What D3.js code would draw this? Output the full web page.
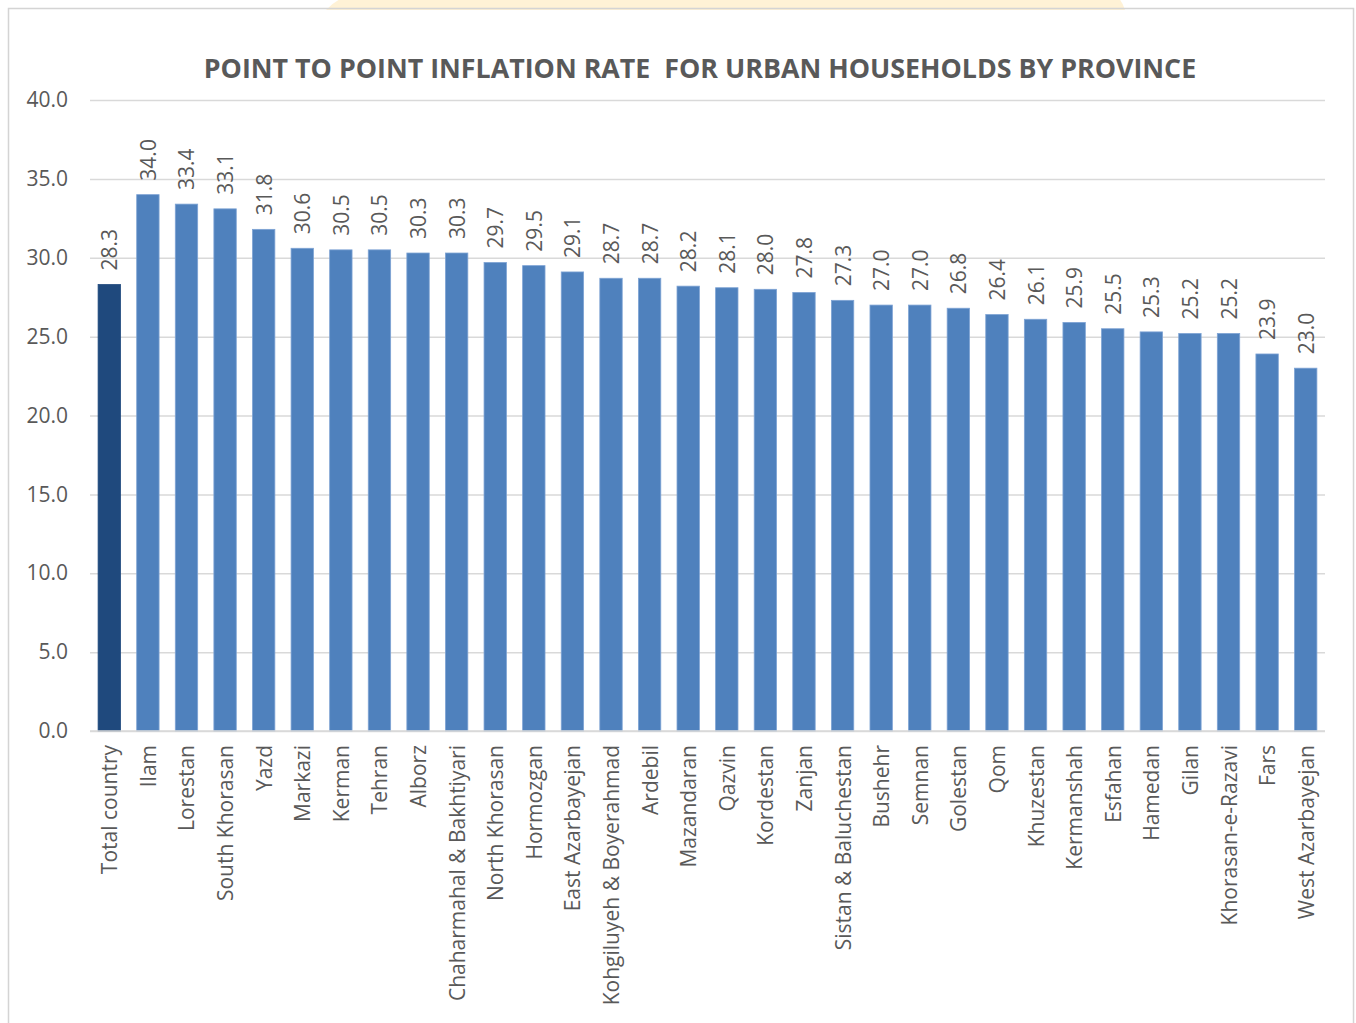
<!DOCTYPE html>
<html>
<head>
<meta charset="utf-8">
<script src="https://cdn.jsdelivr.net/npm/d3@7"></script>
<style>
  html, body { margin: 0; padding: 0; background: #fff; }
  svg { display: block; font-family: "Open Sans", sans-serif; }
</style>
</head>
<body>
<svg id="chart" width="1356" height="1023"></svg>
<script>
const provinces = ["Total country", "Ilam", "Lorestan", "South Khorasan", "Yazd", "Markazi", "Kerman", "Tehran",
  "Alborz", "Chaharmahal & Bakhtiyari", "North Khorasan", "Hormozgan", "East Azarbayejan",
  "Kohgiluyeh & Boyerahmad", "Ardebil", "Mazandaran", "Qazvin", "Kordestan", "Zanjan",
  "Sistan & Baluchestan", "Bushehr", "Semnan", "Golestan", "Qom", "Khuzestan", "Kermanshah",
  "Esfahan", "Hamedan", "Gilan", "Khorasan-e-Razavi", "Fars", "West Azarbayejan"];
const inflation = [28.3, 34.0, 33.4, 33.1, 31.8, 30.6, 30.5, 30.5, 30.3, 30.3, 29.7, 29.5, 29.1, 28.7, 28.7,
  28.2, 28.1, 28.0, 27.8, 27.3, 27.0, 27.0, 26.8, 26.4, 26.1, 25.9, 25.5, 25.3, 25.2, 25.2, 23.9, 23.0];
const yTicks = [0, 5, 10, 15, 20, 25, 30, 35, 40];

const data = provinces.map((p, i) => ({ name: p, value: inflation[i] }));

const svg = d3.select("#chart");
const textColor = "#595959";

// faint yellow shape peeking at top
svg.append("path")
  .attr("d", "M 326 10 Q 335 0 348 -4 L 1116 -4 Q 1122 0 1125 10 Z")
  .attr("fill", "#fff2d6");

// chart frame
svg.append("rect")
  .attr("x", 8.5).attr("y", 8.5)
  .attr("width", 1345).attr("height", 1030)
  .attr("fill", "none")
  .attr("stroke", "#d4d4d4")
  .attr("stroke-width", 1.5);

const x = d3.scaleBand()
  .domain(provinces)
  .range([90, 1325])
  .paddingInner(0.42)
  .paddingOuter(0.21);

const y = d3.scaleLinear()
  .domain([0, 40])
  .range([731, 100]);

// gridlines + y labels
const yAxis = svg.append("g")
  .attr("transform", "translate(90,0)")
  .call(d3.axisLeft(y).tickValues(yTicks).tickSize(-1235).tickPadding(22).tickFormat(d3.format(".1f")));
yAxis.select(".domain").remove();
yAxis.selectAll(".tick line").attr("stroke", "#d9d9d9").attr("stroke-width", 1.5);
yAxis.selectAll(".tick text")
  .attr("fill", textColor)
  .style("font-size", "21px")
  .style("font-family", "Open Sans, sans-serif");

// bars
svg.append("g").selectAll("rect")
  .data(data)
  .enter()
  .append("rect")
  .attr("x", d => x(d.name))
  .attr("y", d => y(d.value))
  .attr("width", x.bandwidth())
  .attr("height", d => y(0) - y(d.value))
  .attr("fill", (d, i) => i === 0 ? "#1f497d" : "#4f81bd")
  .attr("stroke", (d, i) => i === 0 ? "#1f497d" : "#7ea3d4")
  .attr("stroke-width", 0.8);

// baseline
svg.append("line")
  .attr("x1", 90).attr("x2", 1325)
  .attr("y1", y(0)).attr("y2", y(0))
  .attr("stroke", "#d9d9d9")
  .attr("stroke-width", 1.5);

// value labels
svg.append("g").selectAll("text")
  .data(data)
  .enter()
  .append("text")
  .attr("transform", d => `translate(${x(d.name) + x.bandwidth() / 2 + 8},${y(d.value) - 14}) rotate(-90)`)
  .attr("fill", textColor)
  .style("font-size", "21px")
  .text(d => d.value.toFixed(1));

// category labels
svg.append("g").selectAll("text")
  .data(data)
  .enter()
  .append("text")
  .attr("transform", d => `translate(${x(d.name) + x.bandwidth() / 2 + 8},${745}) rotate(-90)`)
  .attr("text-anchor", "end")
  .attr("fill", textColor)
  .style("font-size", "21px")
  .text(d => d.name);

// title
svg.append("text")
  .attr("x", 700)
  .attr("y", 78)
  .attr("text-anchor", "middle")
  .attr("fill", textColor)
  .style("font-size", "26.8px")
  .style("font-weight", "bold")
  .attr("xml:space", "preserve")
  .text("POINT TO POINT INFLATION RATE  FOR URBAN HOUSEHOLDS BY PROVINCE");
</script>
</body>
</html>
